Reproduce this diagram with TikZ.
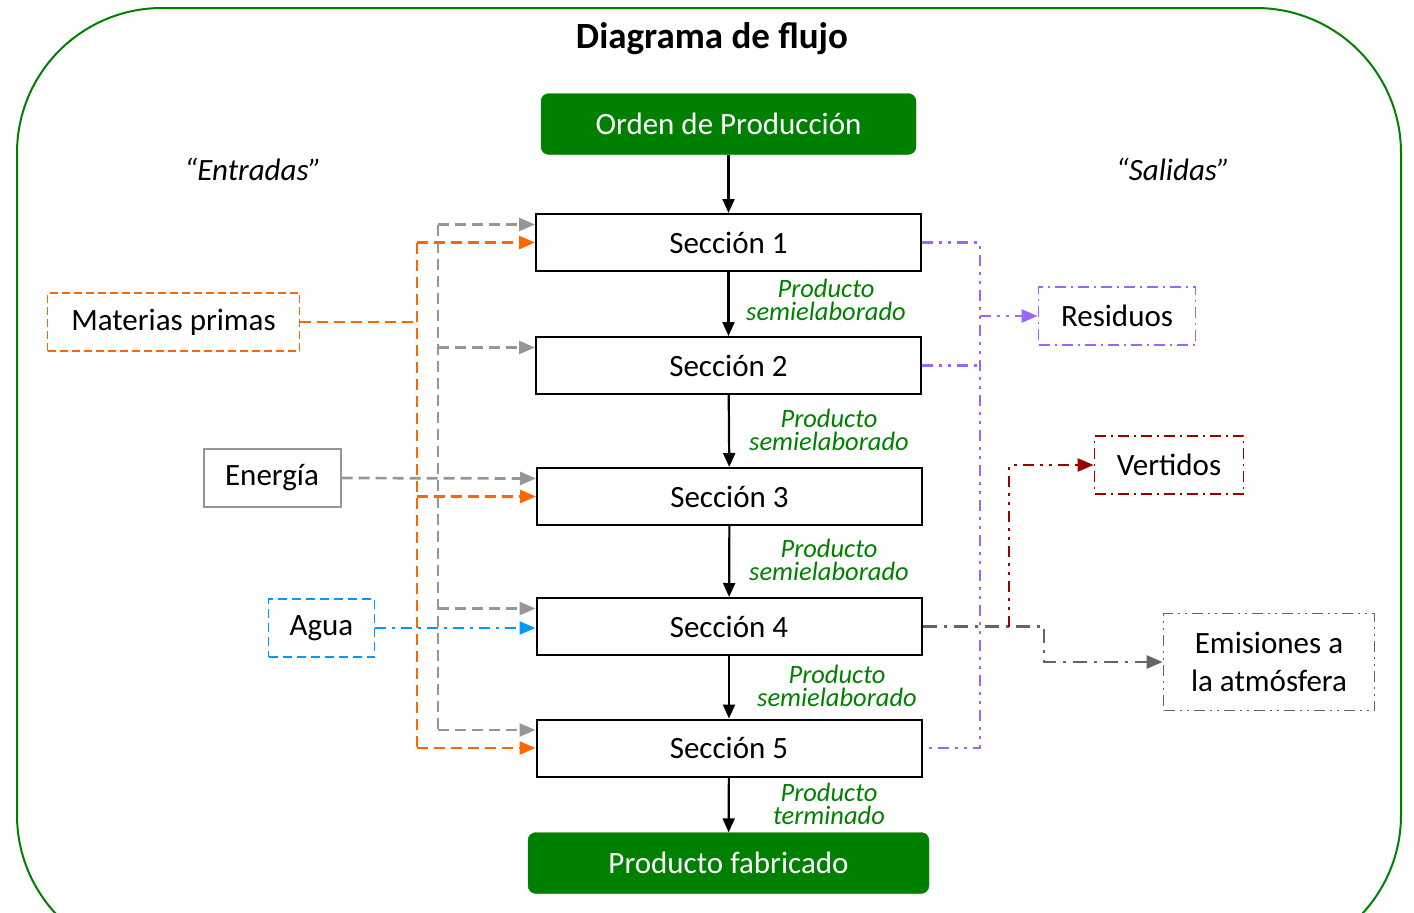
\documentclass[tikz,border=0pt]{standalone}
\usepackage{fontspec}
\setmainfont{Carlito}
\usetikzlibrary{arrows.meta,positioning,calc}

\definecolor{verde}{RGB}{0,128,0}
\definecolor{naranja}{RGB}{255,102,0}
\definecolor{gris}{RGB}{150,150,150}
\definecolor{azul}{RGB}{0,153,255}
\definecolor{morado}{RGB}{153,102,255}
\definecolor{granate}{RGB}{153,0,0}
\definecolor{grisosc}{RGB}{100,100,100}

\newcommand{\tx}{\fontsize{31}{38}\selectfont}
\newcommand{\txp}{\fontsize{26.5}{23}\selectfont}

\tikzset{
  seccion/.style={draw,line width=2pt,minimum width=385pt,minimum height=57pt,font=\tx},
  verdebox/.style={fill=verde,draw=verde,rounded corners=8pt,text=white,font=\tx},
  prod/.style={text=verde,font=\txp\itshape,align=center},
  punta/.style={-{Triangle[length=16pt,width=13pt]}},
  flechan/.style={line width=2.2pt,-{Triangle[length=14pt,width=12pt]}},
  lnar/.style={naranja,line width=2.7pt,dash pattern=on 11pt off 6pt},
  lgris/.style={gris,line width=2.7pt,dash pattern=on 11pt off 6pt},
  lazul/.style={azul,line width=2.5pt,dash pattern=on 11pt off 6pt on 3pt off 6pt},
  lmor/.style={morado,line width=2.5pt,dash pattern=on 11pt off 6pt on 3pt off 6pt on 3pt off 6pt},
  lgra/.style={granate,line width=2.5pt,dash pattern=on 11pt off 6pt on 3pt off 6pt on 3pt off 6pt},
  lemi/.style={grisosc,line width=2.7pt,dash pattern=on 14pt off 7pt on 3pt off 7pt},
}

\begin{document}
\begin{tikzpicture}[x=1pt,y=-1pt]
\clip (0,0) rectangle (1414,913);
%\draw[very thin,gray,step=50] (0,0) grid (1414,913);
\draw[verde,line width=2pt,rounded corners=145pt] (17,8) rectangle (1401,960);

\node[font=\fontsize{37}{44}\selectfont\bfseries] (titulo) at (712,39) {Diagrama de flujo};
\node[font=\tx\itshape] (entradas) at (253,169) {“Entradas”};
\node[font=\tx\itshape] (salidas) at (1173,169) {“Salidas”};

% proceso
\node[verdebox,minimum width=375pt,minimum height=61pt] (orden) at (728.5,124) {Orden de Producción};
\node[seccion] (s1) at (728.5,242.5) {Sección 1};
\node[seccion] (s2) at (728.5,365.5) {Sección 2};
\node[seccion] (s3) at (729.5,496.5) {Sección 3};
\node[seccion] (s4) at (729,626.5) {Sección 4};
\node[seccion] (s5) at (729,748) {Sección 5};
\node[verdebox,minimum width=401pt,minimum height=61pt] (fab) at (728.5,863) {Producto fabricado};

\draw[flechan] (orden) -- (s1);
\draw[flechan] (s1) -- (s2);
\draw[flechan] (s2) -- (s3);
\draw[flechan] (s3) -- (s4);
\draw[flechan] (s4) -- (s5);
\draw[flechan] (s5) -- (fab);

\node[prod] (p1) at (826,300) {Producto\\semielaborado};
\node[prod] (p2) at (829,430) {Producto\\semielaborado};
\node[prod] (p3) at (829,560) {Producto\\semielaborado};
\node[prod] (p4) at (837,686) {Producto\\semielaborado};
\node[prod] (p5) at (829,804) {Producto\\terminado};

% entradas
\node[draw=naranja,line width=1.8pt,dash pattern=on 8pt off 4pt,minimum width=252pt,minimum height=58pt,font=\tx] (mp) at (173.5,322) {Materias primas};
\node[draw=gris,line width=2pt,minimum width=137pt,minimum height=58pt,font=\tx] (en) at (272,478) {Energía};
\node[draw=azul,line width=1.8pt,dash pattern=on 9pt off 5pt,minimum width=106pt,minimum height=58pt,font=\tx] (ag) at (321.5,628) {Agua};

\coordinate (nx) at (417,322);
\coordinate (gx) at (438,0);
\foreach \i in {1,...,5} \coordinate (g\i) at ([yshift=18pt]s\i.west);

\draw[lgris] (gx |- g1) -- (gx |- g5);
\draw[lgris,punta] (gx |- g1) -- (g1);
\draw[lgris,punta] (gx |- g2) -- (g2);
\draw[lgris,punta] (en.east) -- (g3);
\draw[lgris,punta] (gx |- g4) -- (g4);
\draw[lgris,punta] (gx |- g5) -- (g5);

\draw[lnar] (mp.east) -- (nx);
\draw[lnar] (nx |- s1.west) -- (nx |- s5.west);
\draw[lnar,punta] (nx |- s1.west) -- (s1.west);
\draw[lnar,punta] (nx |- s3.west) -- (s3.west);
\draw[lnar,punta] (nx |- s5.west) -- (s5.west);

\draw[lazul,punta] (ag.east) -- (ag.east -| s4.west);

% salidas
\node[draw=morado,line width=1.8pt,dash pattern=on 11pt off 5pt on 2pt off 5pt,minimum width=157pt,minimum height=58pt,font=\tx] (res) at (1117,316) {Residuos};
\node[draw=granate,line width=1.8pt,dash pattern=on 11pt off 5pt on 2pt off 5pt,minimum width=149pt,minimum height=58pt,font=\tx] (ver) at (1169,465) {Vertidos};
\node[draw=grisosc,line width=1.8pt,dash pattern=on 11pt off 5pt on 2pt off 5pt on 2pt off 5pt,minimum width=211pt,minimum height=97pt,font=\tx,align=center] (emi) at (1269,662) {Emisiones a\\la atmósfera};

\coordinate (rx) at (980,0);
\coordinate (vx) at (1009,0);
\coordinate (ex) at (1044,0);

\draw[lmor] (s1.east) -| (rx |- s5.east) -- (s5.east);
\draw[lmor] (s2.east) -- (s2.east -| rx);
\draw[lmor,punta] (rx |- res.west) -- (res.west);

\draw[lemi,punta] (s4.east) -| (ex |- emi.west) -- (emi.west);
\draw[lgra,punta] (vx |- s4.east) |- (ver.west);
\end{tikzpicture}
\end{document}
